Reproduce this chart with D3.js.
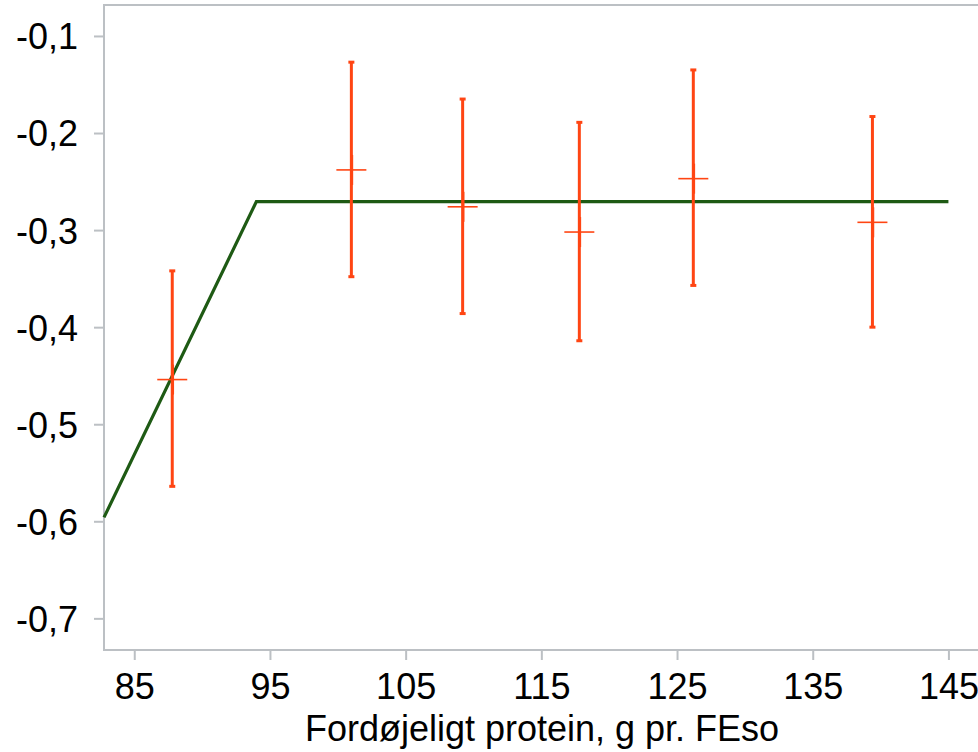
<!DOCTYPE html>
<html>
<head>
<meta charset="utf-8">
<script src="https://cdn.jsdelivr.net/npm/d3@7"></script>
<style>
  body { margin: 0; background: #fff; }
  svg text { font-family: "Liberation Sans", Arial, sans-serif; fill: #000; }
</style>
</head>
<body>
<script>
// protein level (x), mean response and error bar ends
var protein = [87.8, 101.0, 109.2, 117.8, 126.2, 139.4];
var mean    = [-0.454, -0.238, -0.276, -0.302, -0.247, -0.292];
var upper   = [-0.342, -0.127, -0.165, -0.189, -0.135, -0.183];
var lower   = [-0.564, -0.348, -0.386, -0.414, -0.357, -0.400];

// broken-line fit
var fitX = [82.77, 94.0, 145.0];
var fitY = [-0.596, -0.2706, -0.2706];

var xTicks = [85, 95, 105, 115, 125, 135, 145];
var yTicks = [-0.1, -0.2, -0.3, -0.4, -0.5, -0.6, -0.7];
var xTitle = "Fordøjeligt protein, g pr. FEso";

var width = 978, height = 752;
var plotLeft = 104, plotTop = 5, plotBottom = 650;

var svg = d3.select("body").append("svg")
    .attr("width", width).attr("height", height);

var x = d3.scaleLinear().domain([82.77, 147.18]).range([plotLeft, width]);
var y = d3.scaleLinear().domain([-0.7326, -0.0681]).range([plotBottom, plotTop]);

var loc = d3.formatLocale({decimal: ",", thousands: ".", grouping: [3], currency: ["", ""], minus: "-"});
var fmt = loc.format(".1f");

var gridCol = "#bcc0c4";

// frame
svg.append("path")
    .attr("d", "M" + (width + 5) + "," + plotTop + "H" + plotLeft + "V" + plotBottom + "H" + (width + 5))
    .attr("fill", "none").attr("stroke", gridCol).attr("stroke-width", 2);

var yAxis = svg.append("g").attr("transform", "translate(" + plotLeft + ",0)")
    .call(d3.axisLeft(y).tickValues(yTicks).tickFormat(fmt).tickSize(10).tickPadding(16));
var xAxis = svg.append("g").attr("transform", "translate(0," + plotBottom + ")")
    .call(d3.axisBottom(x).tickValues(xTicks).tickFormat(d3.format("d")).tickSize(10).tickPadding(13));

[yAxis, xAxis].forEach(function (g) {
    g.select(".domain").remove();
    g.selectAll(".tick line").attr("stroke", gridCol).attr("stroke-width", 2);
    g.selectAll(".tick text").style("font-size", "36px").attr("fill", "#000");
});
yAxis.selectAll(".tick text").attr("dy", "0.36em");

svg.append("text")
    .attr("x", 542).attr("y", 741)
    .attr("text-anchor", "middle")
    .style("font-size", "36px")
    .text(xTitle);

// fitted line
var line = d3.line().x(function (d) { return x(d[0]); }).y(function (d) { return y(d[1]); });
svg.append("path")
    .datum(d3.zip(fitX, fitY))
    .attr("d", line)
    .attr("fill", "none")
    .attr("stroke", "#1e5a14")
    .attr("stroke-width", 3.2);

// error bars and markers
var red = "#ff4513";
var pts = protein.map(function (p, i) { return {x: p, m: mean[i], hi: upper[i], lo: lower[i]}; });
var g = svg.append("g").selectAll("g").data(pts).enter().append("g");

g.append("line")
    .attr("x1", function (d) { return x(d.x); }).attr("x2", function (d) { return x(d.x); })
    .attr("y1", function (d) { return y(d.hi); }).attr("y2", function (d) { return y(d.lo); })
    .attr("stroke", red).attr("stroke-width", 3);
g.selectAll(".cap").data(function (d) { return [[d.x, d.hi], [d.x, d.lo]]; }).enter().append("line")
    .attr("x1", function (d) { return x(d[0]) - 3; }).attr("x2", function (d) { return x(d[0]) + 3; })
    .attr("y1", function (d) { return y(d[1]); }).attr("y2", function (d) { return y(d[1]); })
    .attr("stroke", red).attr("stroke-width", 3);
g.append("line")
    .attr("x1", function (d) { return x(d.x) - 15; }).attr("x2", function (d) { return x(d.x) + 15; })
    .attr("y1", function (d) { return y(d.m); }).attr("y2", function (d) { return y(d.m); })
    .attr("stroke", red).attr("stroke-width", 1.6);
g.append("line")
    .attr("x1", function (d) { return x(d.x) + 1; }).attr("x2", function (d) { return x(d.x) + 1; })
    .attr("y1", function (d) { return y(d.m) - 15; }).attr("y2", function (d) { return y(d.m) + 15; })
    .attr("stroke", red).attr("stroke-width", 1.6);
</script>
</body>
</html>
